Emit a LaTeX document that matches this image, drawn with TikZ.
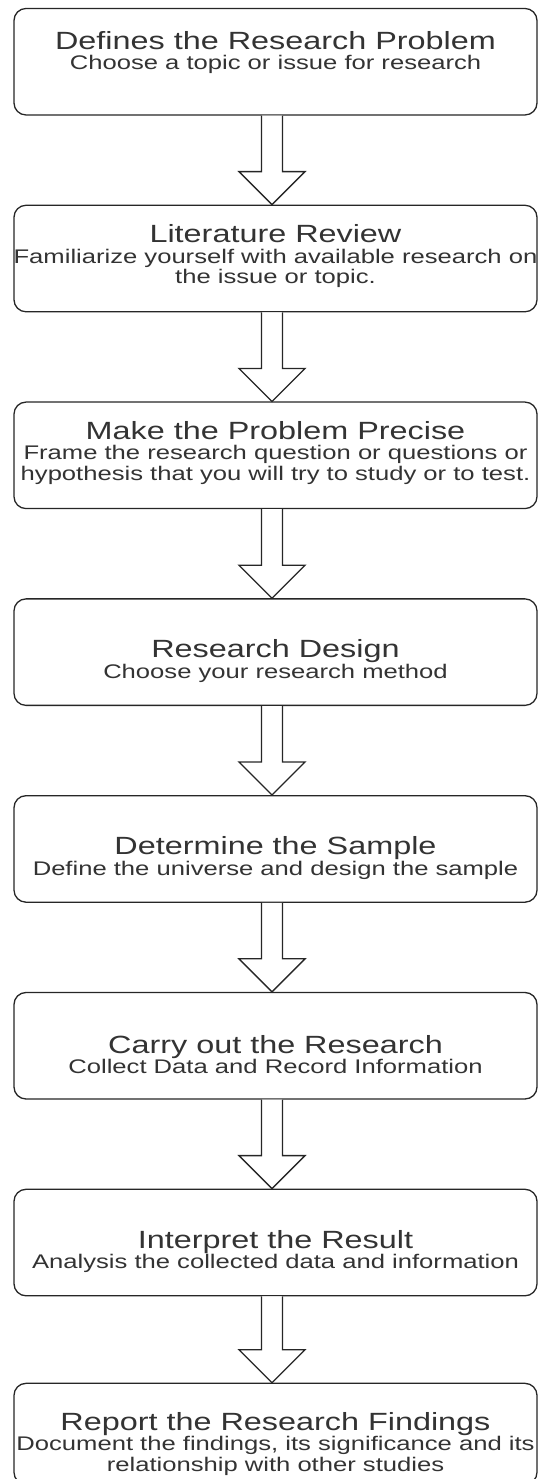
\documentclass[tikz,border=0pt]{standalone}
\usepackage{fontspec}
\setmainfont[FakeStretch=1.3]{Liberation Sans}
\usepackage{xcolor}
\usepackage{tikz}
\usetikzlibrary{positioning,calc}

\newcommand{\headfont}{\fontsize{24.9}{30}\selectfont}
\newcommand{\notefont}{\fontsize{19.7}{20.5}\selectfont}

% hollow block arrow between two boxes
\newcommand{\blockarrow}[2]{%
  \draw[hollow] ([xshift=-14pt]#1.south) -- ([xshift=-14pt,yshift=33pt]#2.north)
    -- ([xshift=-36.5pt,yshift=33pt]#2.north) -- ([xshift=-3.5pt]#2.north)
    -- ([xshift=29.5pt,yshift=33pt]#2.north) -- ([xshift=7pt,yshift=33pt]#2.north)
    -- ([xshift=7pt]#1.south);}

\begin{document}
\begin{tikzpicture}[
  x=1pt, y=1pt,
  node distance=89pt,
  stepbox/.style={rectangle, draw=black!85, line width=1.3pt, rounded corners=12pt,
                  minimum width=523pt, minimum height=106.5pt, fill=white},
  steptext/.style={align=center, text=black!80, inner sep=0pt, font=\notefont},
  hollow/.style={draw=black!85, line width=1.3pt, fill=white, line join=miter}
]
\useasboundingbox (0,0) rectangle (539,1479);

\node[stepbox] (s1) at (275.5,1417.25) {};
\node[stepbox, below=of s1] (s2) {};
\node[stepbox, below=of s2] (s3) {};
\node[stepbox, below=of s3] (s4) {};
\node[stepbox, below=of s4] (s5) {};
\node[stepbox, below=of s5] (s6) {};
\node[stepbox, below=of s6] (s7) {};
\node[stepbox, below=of s7, minimum height=101pt, yshift=2.75pt] (s8) {};

\node[steptext] (t1) at ([yshift=9pt]s1.center)
  {{\headfont Defines the Research Problem}\\Choose a topic or issue for research};
\node[steptext] (t2) at ([yshift=2.5pt]s2.center)
  {{\headfont Literature Review}\\Familiarize yourself with available research on\\the issue or topic.};
\node[steptext] (t3) at ([yshift=2.5pt]s3.center)
  {{\headfont Make the Problem Precise}\\Frame the research question or questions or\\hypothesis that you will try to study or to test.};
\node[steptext] (t4) at ([yshift=-9pt]s4.center)
  {{\headfont Research Design}\\Choose your research method};
\node[steptext] (t5) at ([yshift=-9pt]s5.center)
  {{\headfont Determine the Sample}\\Define the universe and design the sample};
\node[steptext] (t6) at ([yshift=-9pt]s6.center)
  {{\headfont Carry out the Research}\\Collect Data and Record Information};
\node[steptext] (t7) at ([yshift=-9pt]s7.center)
  {{\headfont Interpret the Result}\\Analysis the collected data and information};
\node[steptext] (t8) at ([yshift=-10pt]s8.center)
  {{\headfont Report the Research Findings}\\Document the findings, its significance and its\\relationship with other studies};

\blockarrow{s1}{s2}
\blockarrow{s2}{s3}
\blockarrow{s3}{s4}
\blockarrow{s4}{s5}
\blockarrow{s5}{s6}
\blockarrow{s6}{s7}
\blockarrow{s7}{s8}

\end{tikzpicture}
\end{document}
